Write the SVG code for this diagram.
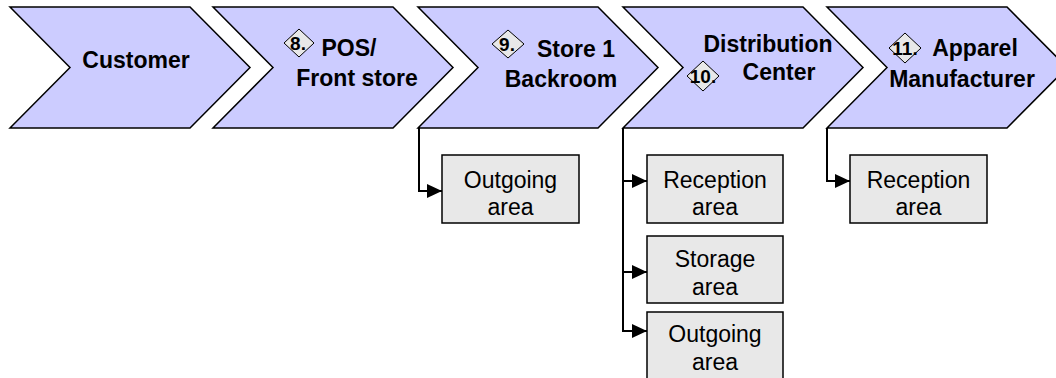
<svg xmlns="http://www.w3.org/2000/svg" width="1056" height="378" viewBox="0 0 1056 378">
<style>
.chev{fill:#ccccff;stroke:#000;stroke-width:1.5;stroke-linejoin:miter}
.box{fill:#e8e8e8;stroke:#000;stroke-width:1.5}
.dia{fill:#e8e8e8;stroke:#000;stroke-width:1}
.t{font-family:"Liberation Sans",Arial,sans-serif;font-weight:bold;font-size:23px;fill:#000;text-anchor:middle}
.n{font-family:"Liberation Sans",Arial,sans-serif;font-weight:bold;font-size:19px;fill:#000;text-anchor:middle}
.b{font-family:"Liberation Sans",Arial,sans-serif;font-size:23px;fill:#000;text-anchor:middle}
.c{fill:none;stroke:#000;stroke-width:2}
</style>
<defs>
<marker id="arr" markerWidth="15" markerHeight="14" refX="15" refY="7" orient="auto" markerUnits="userSpaceOnUse" viewBox="0 0 15 14">
<path d="M0,0 L15,7 L0,14 Z" fill="#000"/>
</marker>
</defs>
<g id="customer">
<polygon class="chev" points="10,7 190,7 250,67.5 190,128 10,128 70,67.5"/>
<text class="t" x="136" y="68">Customer</text>
</g>
<g id="pos">
<polygon class="chev" points="213,7 393,7 453,67.5 393,128 213,128 273,67.5"/>
<polygon class="dia" points="299,29 314,43 299,57 284,43"/>
<text class="n" x="298" y="50">8.</text>
<text class="t" x="349" y="56">POS/</text>
<text class="t" x="357" y="86">Front store</text>
</g>
<g id="backroom">
<polygon class="chev" points="418,7 598,7 658,67.5 598,128 418,128 478,67.5"/>
<polygon class="dia" points="508,30 524,44 508,58 492,44"/>
<text class="n" x="507" y="51">9.</text>
<text class="t" x="576" y="57">Store 1</text>
<text class="t" x="561" y="87">Backroom</text>
</g>
<g id="dc">
<polygon class="chev" points="623,7 803,7 863,67.5 803,128 623,128 683,67.5"/>
<text class="t" x="768" y="52">Distribution</text>
<polygon class="dia" points="703,61 719,76 703,91 687,76"/>
<text class="n" x="703" y="83">10.</text>
<text class="t" x="779" y="80">Center</text>
</g>
<g id="manufacturer">
<polygon class="chev" points="827,7 1007,7 1067,67.5 1007,128 827,128 887,67.5"/>
<polygon class="dia" points="905,33 921,48 905,63 889,48"/>
<text class="n" x="905" y="55">11.</text>
<text class="t" x="975" y="56">Apparel</text>
<text class="t" x="962" y="87">Manufacturer</text>
</g>
<g id="store-outgoing">
<rect class="box" x="442" y="155" width="137" height="68"/>
<text class="b" x="510.5" y="188">Outgoing</text>
<text class="b" x="510.5" y="215">area</text>
</g>
<g id="dc-reception">
<rect class="box" x="647" y="155" width="136" height="68"/>
<text class="b" x="715" y="188">Reception</text>
<text class="b" x="715" y="215">area</text>
</g>
<g id="dc-storage">
<rect class="box" x="647" y="236" width="136" height="67"/>
<text class="b" x="715" y="267">Storage</text>
<text class="b" x="715" y="295">area</text>
</g>
<g id="dc-outgoing">
<rect class="box" x="647" y="312" width="136" height="70"/>
<text class="b" x="715" y="342">Outgoing</text>
<text class="b" x="715" y="370">area</text>
</g>
<g id="mfr-reception">
<rect class="box" x="850" y="155" width="137" height="68"/>
<text class="b" x="918.5" y="188">Reception</text>
<text class="b" x="918.5" y="215">area</text>
</g>
<g id="connectors">
<path class="c" d="M419,128 V191 H442" marker-end="url(#arr)"/>
<path class="c" d="M623,128 V181 H647" marker-end="url(#arr)"/>
<path class="c" d="M623,181 V272 H647" marker-end="url(#arr)"/>
<path class="c" d="M623,272 V331 H647" marker-end="url(#arr)"/>
<path class="c" d="M827,128 V181 H850" marker-end="url(#arr)"/>
</g>
</svg>
